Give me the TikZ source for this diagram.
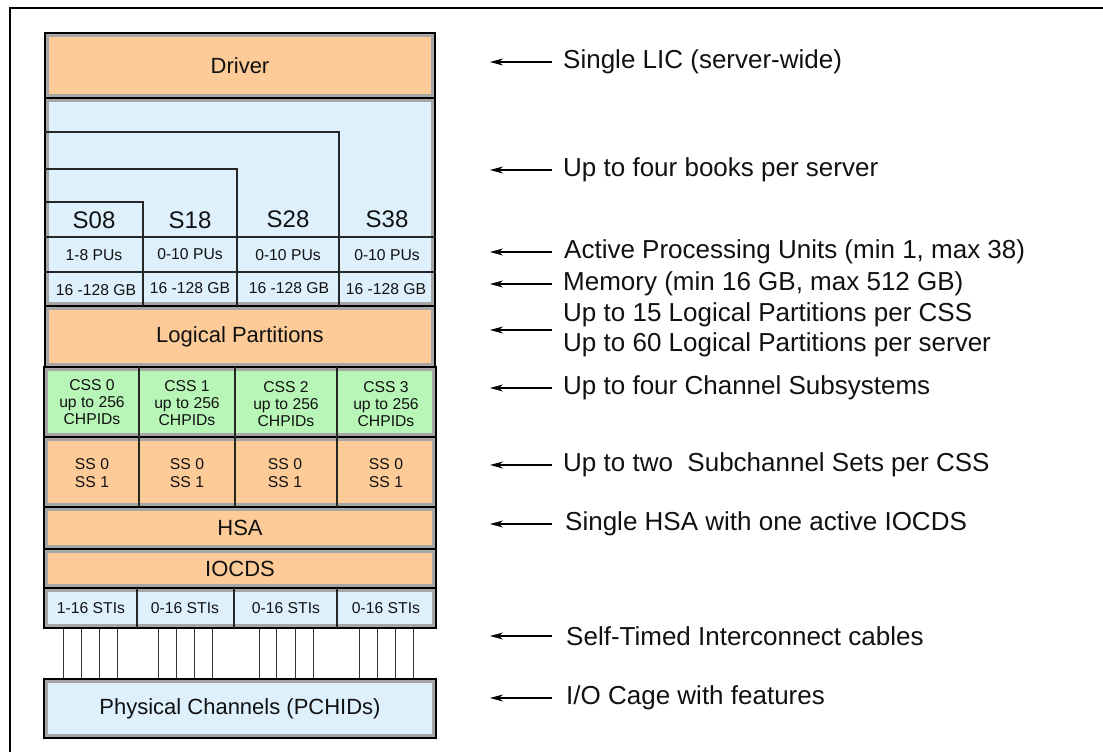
\documentclass[tikz,border=0pt]{standalone}
\usepackage{fontspec}
\setmainfont{Liberation Sans}
\usetikzlibrary{arrows.meta}

\definecolor{peach}{HTML}{FDCB97}
\definecolor{sky}{HTML}{DFF0FD}
\definecolor{mint}{HTML}{B8F6B8}
\definecolor{band}{HTML}{A6A6A6}
\definecolor{ink}{HTML}{111111}

\begin{document}
\begin{tikzpicture}[x=1pt,y=-1pt,
  block/.style={draw=black, line width=2pt, inner sep=0pt, text=ink,
    path picture={\draw[band, line width=8pt]
      (path picture bounding box.south west) rectangle
      (path picture bounding box.north east);}},
  big/.style={font=\fontsize{22}{26}\selectfont},
  small/.style={font=\fontsize{15.7}{17.4}\selectfont, text=ink, inner sep=0pt, align=center},
  book/.style={font=\fontsize{24}{28}\selectfont, text=ink, inner sep=0pt},
  divider/.style={draw=black!85, line width=1.4pt},
  cable/.style={draw=black!80, line width=1pt},
  note/.style={font=\fontsize{26}{30}\selectfont, text=ink, inner sep=0pt,
    anchor=west, align=left},
  pointer/.style={draw=black, line width=1.2pt, -{Stealth[length=13pt,width=7pt]}}
]
\useasboundingbox (0,0) rectangle (1103,752);

% page frame
\draw[line width=1.2pt] (10,752) -- (10,8) -- (1103,8);

% ---- stacked blocks ----
\node[block, fill=peach, big, minimum width=390, minimum height=65] (drv) at (240,65.5) {Driver};
\node[block, fill=sky, minimum width=390, minimum height=208] (books) at (240,202) {};
\node[block, fill=peach, big, minimum width=390, minimum height=61] (lpar) at (240,336.5) {Logical Partitions};
\node[block, fill=mint, minimum width=392, minimum height=70] (css) at (240,402) {};
\node[block, fill=peach, minimum width=392, minimum height=70] (ss) at (240,472) {};
\node[block, fill=peach, big, minimum width=392, minimum height=42] (hsa) at (240,528) {HSA};
\node[block, fill=peach, big, minimum width=392, minimum height=39] (iocds) at (240,568.5) {IOCDS};
\node[block, fill=sky, minimum width=392, minimum height=40] (sti) at (240,608) {};
\node[block, fill=sky, big, minimum width=392, minimum height=59] (pch) at (240,708.5) {Physical Channels (PCHIDs)};

% ---- books: staircase outlines and rows ----
\draw[divider] (45,132) -| (339,306);
\draw[divider] (45,169) -| (237,306);
\draw[divider] (45,202) -| (143,306);
\draw[divider] (44,237) -- (436,237);
\draw[divider] (44,272) -- (436,272);

\node[book] (s08) at (94,220) {S08};
\node[book] (s18) at (190,220) {S18};
\node[book] (s28) at (288,219) {S28};
\node[book] (s38) at (387,219) {S38};

\node[small] (pu0) at (94,255) {1-8 PUs};
\node[small] (pu1) at (190,254) {0-10 PUs};
\node[small] (pu2) at (288,255) {0-10 PUs};
\node[small] (pu3) at (387,255) {0-10 PUs};

\node[small] (gb0) at (96,290) {16 -128 GB};
\node[small] (gb1) at (190,288) {16 -128 GB};
\node[small] (gb2) at (289,288) {16 -128 GB};
\node[small] (gb3) at (386,289) {16 -128 GB};

% ---- channel subsystems and subchannel sets ----
\foreach \x in {139,235,337} \draw[divider] (\x,367) -- (\x,507);
\node[small] (css0) at (92,402) {CSS 0\\up to 256\\CHPIDs};
\node[small] (css1) at (187,403) {CSS 1\\up to 256\\CHPIDs};
\node[small] (css2) at (286,404) {CSS 2\\up to 256\\CHPIDs};
\node[small] (css3) at (386,404) {CSS 3\\up to 256\\CHPIDs};

\node[small] (ss0) at (92,473) {SS 0\\SS 1};
\node[small] (ss1) at (187,473) {SS 0\\SS 1};
\node[small] (ss2) at (285,473) {SS 0\\SS 1};
\node[small] (ss3) at (386,473) {SS 0\\SS 1};

% ---- STI ports ----
\foreach \x in {137,234,337} \draw[divider] (\x,588) -- (\x,628);
\node[small] (sti0) at (91,608) {1-16 STIs};
\node[small] (sti1) at (185,608) {0-16 STIs};
\node[small] (sti2) at (286,608) {0-16 STIs};
\node[small] (sti3) at (386,608) {0-16 STIs};

% ---- self-timed interconnect cables ----
\foreach \x [count=\i] in {63,81,99,117,158,176,194,212,259,276,295,313,359,377,395,413} {
  \coordinate (k\i) at (\x,0);
  \draw[cable] (k\i |- sti.south) -- (k\i |- pch.north);
}

% ---- annotations ----
\node[note] (n1) at (563,62) {Single LIC (server-wide)};
\node[note] (n2) at (563,170) {Up to four books per server};
\node[note] (n3) at (564,252) {Active Processing Units (min 1, max 38)};
\node[note] (n4) at (563,284) {Memory (min 16 GB, max 512 GB)};
\node[note] (n5) at (563,330) {Up to 15 Logical Partitions per CSS\\Up to 60 Logical Partitions per server};
\node[note] (n6) at (563,388) {Up to four Channel Subsystems};
\node[note] (n7) at (563,465) {Up to two~ Subchannel Sets per CSS};
\node[note] (n8) at (565,524) {Single HSA with one active IOCDS};
\node[note] (n9) at (566,636) {Self-Timed Interconnect cables};
\node[note] (n10) at (566,698) {I/O Cage with features};

% pointer tails and tips sit on two fixed verticals
\coordinate (tail) at (552,0);
\coordinate (tip) at (490,0);
\foreach \n in {n1,n2,n3,n4,n5,n6,n7,n8,n9,n10}
  \draw[pointer] (tail |- \n.west) -- (tip |- \n.west);
\end{tikzpicture}
\end{document}
